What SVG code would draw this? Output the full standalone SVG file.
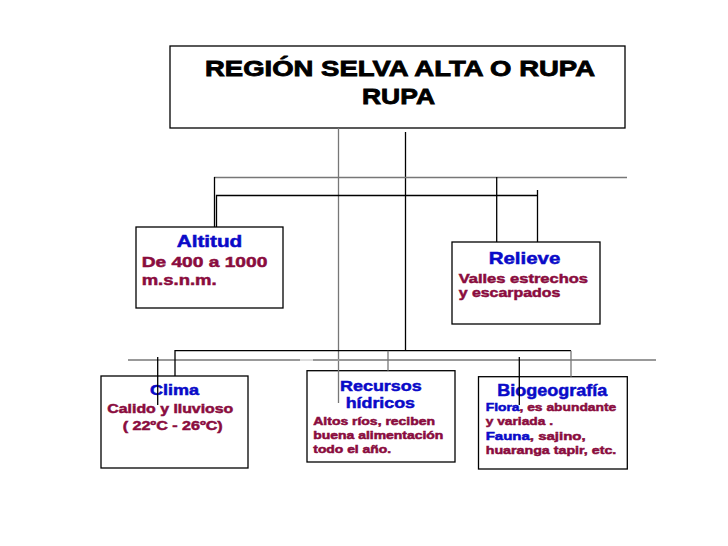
<svg xmlns="http://www.w3.org/2000/svg" width="728" height="546" viewBox="0 0 728 546">
<style>
  .box{fill:#fff;stroke:#000;stroke-width:1.3}
  text{font-family:"Liberation Sans",Arial,sans-serif;font-weight:bold;stroke-width:0.5}
  .t{fill:#000;stroke:#000;stroke-width:0.8}
  .h{fill:#0a0ac8;stroke:#0a0ac8}
  .b{fill:#8a0c3e;stroke:#8a0c3e}
  .k{stroke:#000;stroke-width:1.3;fill:none}
  .g{stroke:#777;stroke-width:1.3;fill:none}
  .lg{stroke:#999;stroke-width:2;fill:none}
</style>
<rect width="728" height="546" fill="#fff"/>
<g id="node-title">
  <rect class="box" x="170" y="46" width="455" height="82"/>
  <text class="t" x="205" y="76" font-size="21.5" textLength="390" lengthAdjust="spacingAndGlyphs">REGIÓN SELVA ALTA O RUPA</text>
  <text class="t" x="362" y="103.5" font-size="21.5" textLength="73" lengthAdjust="spacingAndGlyphs">RUPA</text>
</g>
<g id="node-altitud">
  <rect class="box" x="136" y="227" width="147" height="81"/>
  <text class="h" x="176.7" y="247" font-size="16.3" textLength="65.6" lengthAdjust="spacingAndGlyphs">Altitud</text>
  <text class="b" x="141.7" y="267" font-size="15" textLength="125.6" lengthAdjust="spacingAndGlyphs">De 400 a 1000</text>
  <text class="b" x="141.7" y="285.3" font-size="15" textLength="75" lengthAdjust="spacingAndGlyphs">m.s.n.m.</text>
</g>
<g id="node-relieve">
  <rect class="box" x="452" y="242" width="148" height="82"/>
  <text class="h" x="488.7" y="263.7" font-size="16.3" textLength="71.6" lengthAdjust="spacingAndGlyphs">Relieve</text>
  <text class="b" x="458.7" y="283" font-size="13" textLength="129.3" lengthAdjust="spacingAndGlyphs">Valles estrechos</text>
  <text class="b" x="458.7" y="296.5" font-size="13" textLength="101.6" lengthAdjust="spacingAndGlyphs">y escarpados</text>
</g>
<g id="node-clima">
  <rect class="box" x="101" y="376" width="147" height="92"/>
  <text class="h" x="150" y="395.3" font-size="14.5" textLength="49" lengthAdjust="spacingAndGlyphs">Clima</text>
  <text class="b" x="107.3" y="412.7" font-size="12.8" textLength="126" lengthAdjust="spacingAndGlyphs">Calido y lluvioso</text>
  <text class="b" x="122.7" y="430" font-size="12.8" textLength="100" lengthAdjust="spacingAndGlyphs">( 22ºC - 26ºC)</text>
</g>
<g id="node-recursos">
  <rect class="box" x="307" y="370.7" width="148" height="91.3"/>
  <text class="h" x="340" y="390.7" font-size="15" textLength="81.7" lengthAdjust="spacingAndGlyphs">Recursos</text>
  <text class="h" x="345.7" y="407.7" font-size="15" textLength="69.3" lengthAdjust="spacingAndGlyphs">hídricos</text>
  <text class="b" x="313.3" y="425" font-size="10.5" textLength="121.7" lengthAdjust="spacingAndGlyphs">Altos ríos, reciben</text>
  <text class="b" x="313.3" y="439" font-size="10.5" textLength="130" lengthAdjust="spacingAndGlyphs">buena alimentación</text>
  <text class="b" x="313.3" y="452.7" font-size="10.5" textLength="77.7" lengthAdjust="spacingAndGlyphs">todo el año.</text>
</g>
<g id="node-biogeografia">
  <rect class="box" x="478.5" y="376.7" width="148.8" height="92.3"/>
  <text class="h" x="497.3" y="396.3" font-size="16.3" textLength="110" lengthAdjust="spacingAndGlyphs">Biogeografía</text>
  <text class="b" x="485.7" y="411.3" font-size="11.7" textLength="130.6" lengthAdjust="spacingAndGlyphs"><tspan class="h">Flora</tspan>, es abundante</text>
  <text class="b" x="485.7" y="424.7" font-size="11.7" textLength="67.3" lengthAdjust="spacingAndGlyphs">y variada .</text>
  <text class="b" x="485.7" y="439.7" font-size="11.7" textLength="100" lengthAdjust="spacingAndGlyphs"><tspan class="h">Fauna</tspan>, sajino,</text>
  <text class="b" x="485.7" y="454" font-size="11.7" textLength="130.6" lengthAdjust="spacingAndGlyphs">huaranga tapir, etc.</text>
</g>
<g id="connectors">
  <path class="g" d="M338.5 128V403"/>
  <path class="k" d="M405.5 132V351"/>
  <path class="g" d="M214 177.5H627"/>
  <path class="k" d="M214.5 177V227"/>
  <path class="k" d="M216.5 227V195.5H537.5M537.5 190V242"/>
  <path class="k" d="M496.7 177V242"/>
  <path class="lg" d="M128 360H300M313 360H656"/>
  <path stroke="#ddd" stroke-width="2" d="M300 360H313"/>
  <path class="k" d="M175 376V350.7H571"/>
  <path class="g" d="M571 350.7V376.7"/>
  <path class="g" d="M388 350.7V370.7"/>
  <path class="k" d="M157.7 357V405"/>
  <path class="k" d="M519.3 357V405"/>
</g>
</svg>
